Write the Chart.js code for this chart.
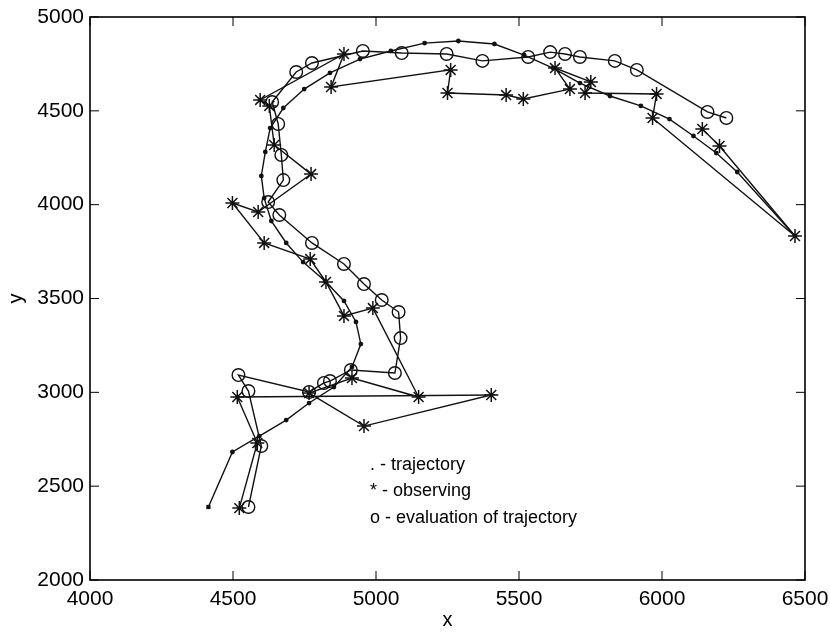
<!DOCTYPE html>
<html>
<head>
<meta charset="utf-8">
<script src="https://cdn.jsdelivr.net/npm/chart.js@4.4.0/dist/chart.umd.min.js"></script>
<style>
  html, body { margin: 0; padding: 0; background: #fff; }
</style>
</head>
<body>
<canvas id="trajChart" width="830" height="636"></canvas>
<script>
// trajectory (dots)
var trajX = [4414, 4498, 4592, 4686, 4766, 4853, 4916, 4947, 4930, 4888, 4822, 4745,
             4686, 4634, 4609, 4599, 4613, 4630, 4676, 4749, 4839, 4944, 5052, 5170,
             5288, 5414, 5518, 5619, 5713, 5818, 5926, 6026, 6110, 6190, 6263, 6465];
var trajY = [2389, 2682, 2767, 2852, 2943, 3028, 3135, 3257, 3375, 3487, 3593, 3694,
             3796, 3913, 4035, 4153, 4281, 4408, 4515, 4616, 4702, 4776, 4819, 4861,
             4872, 4856, 4797, 4728, 4648, 4579, 4526, 4456, 4366, 4275, 4174, 3833];

// observing (asterisks)
var obsX = [4522, 4585, 4515, 5403, 4958, 4766, 4916, 5149, 4989, 4888, 4825, 4770,
            4609, 4498, 4588, 4773, 4644, 4627, 4595, 4888, 4843, 5261, 5250, 5455,
            5515, 5678, 5626, 5751, 5731, 5981, 5967, 6465, 6201, 6141];
var obsY = [2383, 2730, 2975, 2986, 2820, 2996, 3076, 2975, 3449, 3407, 3588, 3710,
            3796, 4009, 3961, 4163, 4318, 4526, 4558, 4803, 4627, 4718, 4595, 4584,
            4563, 4616, 4728, 4654, 4595, 4590, 4462, 3833, 4313, 4403];

// evaluation of trajectory (circles)
var evalX = [4554, 4599, 4554, 4519, 4766, 4818, 4839, 4912, 5066, 5086, 5079, 5020,
             4958, 4888, 4776, 4662, 4623, 4676, 4669, 4658, 4637, 4721, 4776, 4954,
             5090, 5247, 5372, 5532, 5609, 5661, 5713, 5835, 5912, 6159, 6225];
var evalY = [2389, 2714, 3007, 3092, 3002, 3050, 3060, 3119, 3103, 3289, 3428, 3492,
             3577, 3684, 3796, 3945, 4014, 4131, 4265, 4430, 4547, 4707, 4755, 4819,
             4808, 4803, 4766, 4787, 4813, 4803, 4787, 4766, 4718, 4494, 4462];

var xTicks = [4000, 4500, 5000, 5500, 6000, 6500];
var yTicks = [2000, 2500, 3000, 3500, 4000, 4500, 5000];

var notes = ['. - trajectory', '* - observing', 'o - evaluation of trajectory'];

function toPoints(xs, ys) {
    return xs.map(function (x, i) { return { x: x, y: ys[i] }; });
}

var fontFamily = '"Liberation Sans", Arial, Helvetica, sans-serif';

// box, inward ticks and the text note
var boxTicks = {
    id: 'boxTicks',
    afterDraw: function (chart) {
        var ctx = chart.ctx;
        var a = chart.chartArea;
        var sx = chart.scales.x, sy = chart.scales.y;
        var len = 9;
        ctx.save();
        ctx.strokeStyle = '#000';
        ctx.lineWidth = 1.6;
        ctx.strokeRect(a.left, a.top, a.right - a.left, a.bottom - a.top);
        ctx.beginPath();
        xTicks.forEach(function (v) {
            var px = sx.getPixelForValue(v);
            ctx.moveTo(px, a.bottom); ctx.lineTo(px, a.bottom - len);
            ctx.moveTo(px, a.top); ctx.lineTo(px, a.top + len);
        });
        yTicks.forEach(function (v) {
            var py = sy.getPixelForValue(v);
            ctx.moveTo(a.left, py); ctx.lineTo(a.left + len, py);
            ctx.moveTo(a.right, py); ctx.lineTo(a.right - len, py);
        });
        ctx.lineWidth = 1;
        ctx.stroke();

        ctx.fillStyle = '#000';
        ctx.font = '18px ' + fontFamily;
        ctx.textBaseline = 'middle';
        ctx.textAlign = 'left';
        notes.forEach(function (t, i) {
            ctx.fillText(t, a.left + 280, a.top + 448 + i * 26.5);
        });
        ctx.restore();
    }
};

var ctx = document.getElementById('trajChart').getContext('2d');

new Chart(ctx, {
    type: 'scatter',
    data: {
        datasets: [
            {
                label: 'trajectory',
                data: toPoints(trajX, trajY),
                showLine: true,
                borderColor: '#111',
                borderWidth: 1.4,
                pointStyle: trajX.map(function (v, i) { return i === 0 ? 'rect' : 'circle'; }),
                pointRadius: trajX.map(function (v, i) { return i === 0 ? 3 : 2.4; }),
                pointBackgroundColor: '#111',
                pointBorderWidth: 0
            },
            {
                label: 'observing',
                data: toPoints(obsX, obsY),
                showLine: true,
                borderColor: '#111',
                borderWidth: 1.4,
                pointStyle: 'star',
                pointRadius: 7,
                pointBorderColor: '#111',
                pointBorderWidth: 1.5
            },
            {
                label: 'evaluation of trajectory',
                data: toPoints(evalX, evalY),
                showLine: true,
                borderColor: '#111',
                borderWidth: 1.4,
                pointStyle: 'circle',
                pointRadius: 6.3,
                pointBackgroundColor: 'rgba(0,0,0,0)',
                pointBorderColor: '#111',
                pointBorderWidth: 1.4
            }
        ]
    },
    options: {
        responsive: false,
        animation: false,
        layout: { padding: { top: 17, right: 25, left: 0, bottom: 0 } },
        scales: {
            x: {
                type: 'linear',
                min: 4000,
                max: 6500,
                afterBuildTicks: function (scale) {
                    scale.ticks = xTicks.map(function (v) { return { value: v }; });
                },
                afterFit: function (scale) {
                    scale.height = 56;
                    scale.paddingLeft = 0;
                    scale.paddingRight = 0;
                },
                grid: { display: false, drawTicks: false },
                border: { display: false },
                ticks: {
                    color: '#000',
                    padding: 7,
                    font: { size: 21, family: fontFamily },
                    callback: function (value) { return String(value); }
                },
                title: {
                    display: true,
                    text: 'x',
                    color: '#000',
                    padding: { top: 3 },
                    font: { size: 20, family: fontFamily }
                }
            },
            y: {
                type: 'linear',
                min: 2000,
                max: 5000,
                afterBuildTicks: function (scale) {
                    scale.ticks = yTicks.map(function (v) { return { value: v }; });
                },
                afterFit: function (scale) {
                    scale.width = 90;
                    scale.paddingTop = 0;
                    scale.paddingBottom = 0;
                },
                grid: { display: false, drawTicks: false },
                border: { display: false },
                ticks: {
                    color: '#000',
                    padding: 6,
                    font: { size: 21, family: fontFamily },
                    callback: function (value) { return String(value); }
                },
                title: {
                    display: true,
                    text: 'y',
                    color: '#000',
                    padding: { bottom: 0 },
                    font: { size: 20, family: fontFamily }
                }
            }
        },
        plugins: {
            legend: { display: false },
            tooltip: { enabled: false }
        }
    },
    plugins: [boxTicks]
});
</script>
</body>
</html>
